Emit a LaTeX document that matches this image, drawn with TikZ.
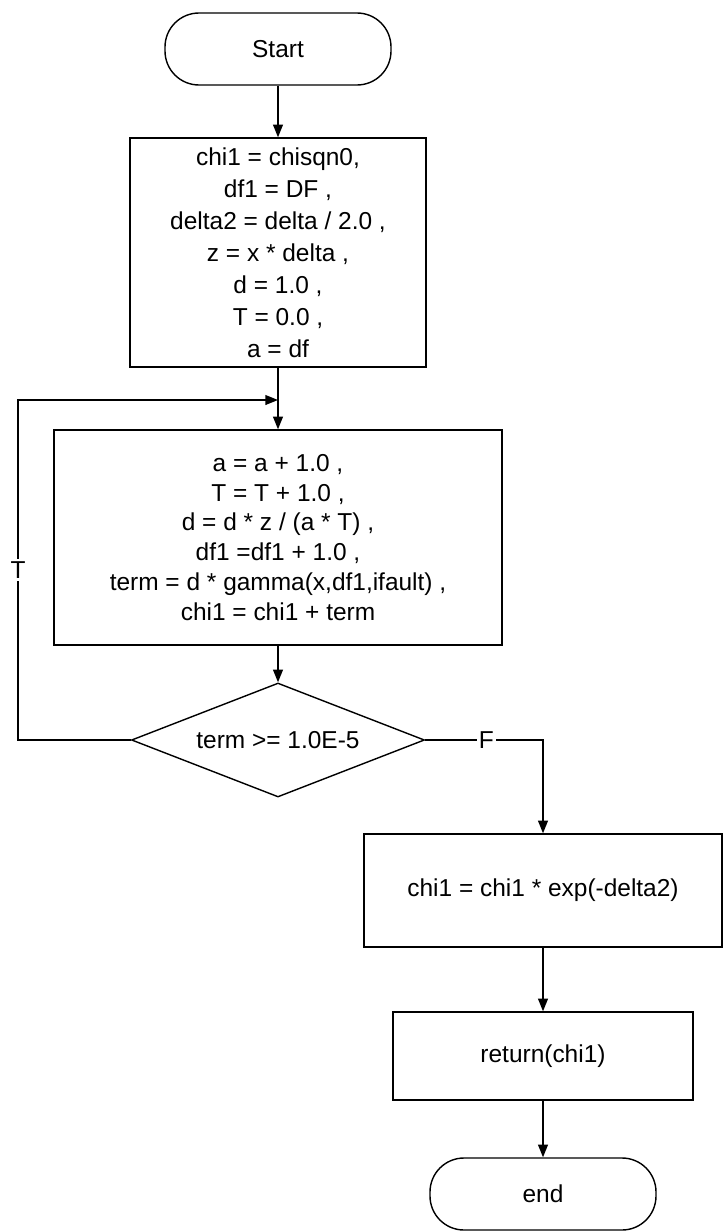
\documentclass[tikz,border=0pt]{standalone}
\usepackage{fontspec}
\setmainfont{Liberation Sans}
\usepackage{tikz}
\usetikzlibrary{arrows.meta, positioning, shapes.geometric}

\begin{document}
\begin{tikzpicture}[
    term/.style={rectangle, rounded corners=0.85cm, draw, line width=1pt,
                 minimum width=5.65cm, minimum height=1.8cm,
                 align=center, font=\fontsize{17.4}{22.8}\selectfont},
    proc/.style={rectangle, draw, line width=1pt,
                 align=center, font=\fontsize{17.4}{22.8}\selectfont},
    %% aspect=2.57 -> 7.325cm wide, 2.85cm high
    dec/.style={diamond, draw, line width=1pt, inner sep=0pt, aspect=2.57,
                minimum width=7.325cm, minimum height=2.85cm,
                align=center, font=\fontsize{17.4}{22.8}\selectfont},
    lbl/.style={fill=white, inner sep=1.5pt, font=\fontsize{17.4}{20}\selectfont},
    arr/.style={-{Triangle[length=9pt, width=7pt]}, line width=1pt},
]
  \useasboundingbox (0,0) rectangle (18.075,-30.8);

  %% ---- main column, x = 6.95 ----
  \node[term] (start) at (6.95, -1.225) {Start};
  \node[proc, minimum width=7.4cm, minimum height=5.725cm] (init) at (6.95, -6.3125)
       {chi1 = chisqn0,\\ df1 = DF ,\\ delta2 = delta / 2.0 ,\\ z = x * delta ,\\
        d = 1.0 ,\\ T = 0.0 ,\\ a = df};
  \coordinate (join) at (6.95, -10.0);
  \node[proc, minimum width=11.2cm, minimum height=5.375cm,
        font=\fontsize{17.4}{21.3}\selectfont] (body) at (6.95, -13.4375)
       {a = a + 1.0 ,\\ T = T + 1.0 ,\\ d = d * z / (a * T) ,\\ df1 =df1 + 1.0 ,\\
        term = d * gamma(x,df1,ifault) ,\\ chi1 = chi1 + term};
  \node[dec] (test) at (6.95, -18.5) {term >= 1.0E-5};

  %% ---- loop-back corners ----
  \coordinate (lpb) at (0.45, -18.5);
  \coordinate (lpt) at (0.45, -10.0);

  %% ---- right column, x = 13.575 ----
  \coordinate (fturn) at (13.575, -18.5);
  \node[proc, minimum width=8.95cm, minimum height=2.825cm] (scale) at (13.575, -22.2625)
       {chi1 = chi1 * exp(-delta2)};
  \node[proc, minimum width=7.5cm, minimum height=2.2cm] (ret) at (13.575, -26.4)
       {return(chi1)};
  \node[term] (stop) at (13.575, -29.85) {end};

  %% ---- connectors ----
  \draw[arr] (start.south) -- (init.north);
  \draw[arr] (init.south) -- (body.north);
  \draw[arr] (body.south) -- (test.north);
  \draw[arr] (test.west) -- (lpb) -- node[lbl]{T} (lpt) -- (join);
  \draw[arr] (test.east) -- node[lbl, pos=0.52]{F} (fturn) -- (scale.north);
  \draw[arr] (scale.south) -- (ret.north);
  \draw[arr] (ret.south) -- (stop.north);

\end{tikzpicture}
\end{document}
